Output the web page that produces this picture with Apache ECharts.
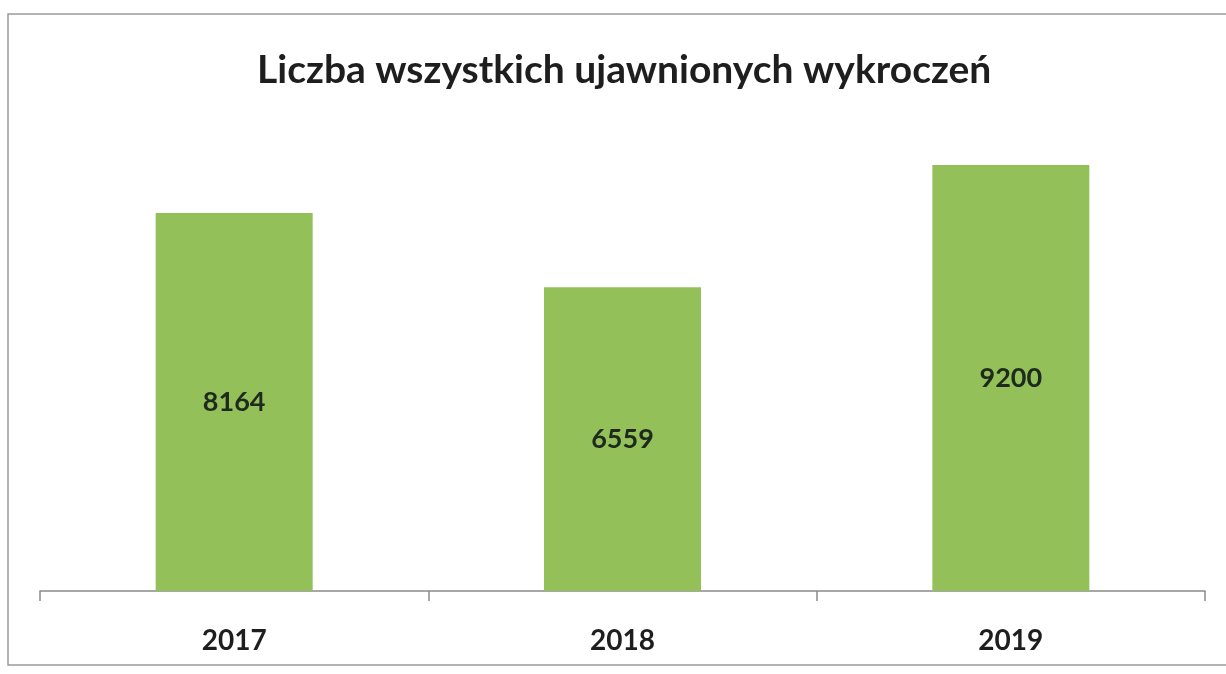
<!DOCTYPE html>
<html>
<head>
<meta charset="utf-8">
<style>
  html, body { margin: 0; padding: 0; background: #fff; }
  #chart { width: 1226px; height: 674px; }
</style>
<script src="https://cdn.jsdelivr.net/npm/echarts@6/dist/echarts.min.js"></script>
</head>
<body>
<div id="chart"></div>
<script>
// data
var years = ['2017', '2018', '2019'];
var offences = [8164, 6559, 9200];

var chart = echarts.init(document.getElementById('chart'));

chart.setOption({
    backgroundColor: '#fff',
    title: {
        text: 'Liczba wszystkich ujawnionych wykroczeń',
        left: 252,
        top: 46,
        textStyle: {
            fontFamily: 'Lato',
            fontWeight: 'bold',
            fontSize: 39,
            color: '#1e1e1e'
        }
    },
    graphic: [{
        type: 'rect',
        shape: { x: 8, y: 14, width: 1240, height: 651 },
        style: { fill: 'none', stroke: '#9a9a9a', lineWidth: 1.5 },
        silent: true
    }],
    grid: { left: 40, right: 21, top: 128, bottom: 83 },
    xAxis: {
        type: 'category',
        data: years,
        axisLine: { lineStyle: { color: '#8a8a8a', width: 1.5 } },
        axisTick: { show: true, length: 10, lineStyle: { color: '#8a8a8a', width: 1.5 } },
        axisLabel: {
            margin: 36,
            fontFamily: 'Lato',
            fontWeight: 'bold',
            fontSize: 28,
            color: '#1e1e1e'
        }
    },
    yAxis: {
        type: 'value',
        min: 0,
        max: 10000,
        show: false,
        splitLine: { show: false }
    },
    series: [{
        type: 'bar',
        data: offences,
        barWidth: 157,
        itemStyle: { color: '#93c058' },
        label: {
            show: true,
            position: 'inside',
            fontFamily: 'Lato',
            fontWeight: 'bold',
            fontSize: 27,
            color: '#1e2a1e'
        }
    }]
});
</script>
</body>
</html>
